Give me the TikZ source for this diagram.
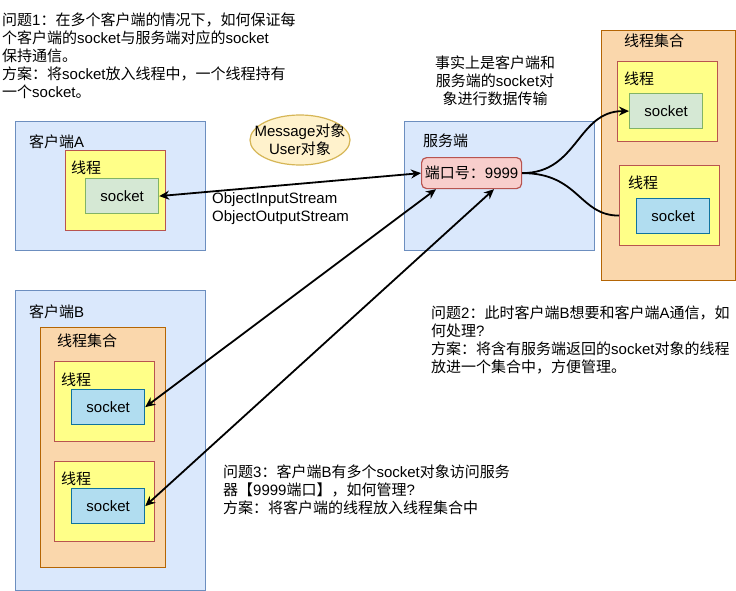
\documentclass[tikz,border=0pt]{standalone}
\usepackage{fontspec}
\setmainfont{Noto Sans CJK SC}
\newfontfamily\lat{Liberation Sans}
\usetikzlibrary{arrows.meta,calc,shapes.geometric}
\definecolor{cBlue}{HTML}{DAE8FC}
\definecolor{cBlueS}{HTML}{6C8EBF}
\definecolor{cOr}{HTML}{FAD7AC}
\definecolor{cOrS}{HTML}{B46504}
\definecolor{cYel}{HTML}{FFFF88}
\definecolor{cRedS}{HTML}{B85450}
\definecolor{cGr}{HTML}{D5E8D4}
\definecolor{cGrS}{HTML}{82B366}
\definecolor{cSk}{HTML}{B1DDF0}
\definecolor{cSkS}{HTML}{10739E}
\definecolor{cPink}{HTML}{F8CECC}
\definecolor{cEll}{HTML}{FFF2CC}
\definecolor{cEllS}{HTML}{D6B656}
\newcommand{\latn}[1]{{\lat #1}}
\tikzset{
  basebox/.style={anchor=north west, inner sep=0pt, line width=1.2pt},
  clientbox/.style={basebox, draw=cBlueS, fill=cBlue, minimum width=190pt},
  setbox/.style={basebox, draw=cOrS, fill=cOr},
  threadbox/.style={basebox, draw=cRedS, fill=cYel, minimum width=100pt, minimum height=80pt},
  sockg/.style={basebox, draw=cGrS, fill=cGr, minimum width=73pt, minimum height=35pt},
  sockb/.style={basebox, draw=cSkS, fill=cSk, minimum width=73pt, minimum height=35pt},
  lbl/.style={anchor=west, inner sep=0pt},
  note/.style={anchor=north west, inner sep=0pt, align=left},
  latfont/.style={font=\fontsize{15}{17.8}\selectfont\lat},
  arrowline/.style={line width=1.8pt},
  tip/.tip={Stealth[length=10pt,width=9pt]},
}
\begin{document}
\begin{tikzpicture}[x=1pt,y=-1pt,font=\fontsize{15}{17.8}\selectfont]
\useasboundingbox (0,0) rectangle (736,591);

% client A
\node[clientbox, minimum height=129pt] (ca) at (15,121) {};
\node[lbl] (lca) at (29,142) {客户端\latn{A}};
\node[threadbox] (ta) at (65,150) {};
\node[lbl] (lta) at (71,168) {线程};
\node[sockg] (sa) at (85,178) {\latn{socket}};

% ellipse
\node[ellipse, draw=cEllS, fill=cEll, line width=1.2pt, minimum width=100pt, minimum height=50pt, inner sep=0pt] (msg) at (300,140) {};
\node[align=center, inner sep=0pt] (msgt) at (msg.center) {\latn{Message}对象\\\latn{User}对象};

\node[lbl, latfont, align=left] (ois) at (212,209) {ObjectInputStream\\ObjectOutputStream};

% server
\node[clientbox, minimum height=129pt] (srv) at (404,121) {};
\node[lbl] (lsrv) at (423,141) {服务端};
\node[basebox, draw=cRedS, fill=cPink, rounded corners=5pt, minimum width=100pt, minimum height=31pt] (port) at (421,157) {端口号：\latn{9999}};

\node[align=center, inner sep=0pt] (fact) at (495,81) {事实上是客户端和\\服务端的\latn{socket}对\\象进行数据传输};

% right thread set
\node[setbox, minimum width=134pt, minimum height=250pt] (rset) at (601,30) {};
\node[lbl] (lrset) at (624,41) {线程集合};
\node[threadbox] (tr1) at (617,61) {};
\node[lbl] (ltr1) at (624,79) {线程};
\node[sockg] (sr1) at (629,93) {\latn{socket}};
\node[threadbox] (tr2) at (619,165) {};
\node[lbl] (ltr2) at (628,183) {线程};
\node[sockb] (sr2) at (636,198) {\latn{socket}};

% client B
\node[clientbox, minimum height=300pt] (cb) at (15,290) {};
\node[lbl] (lcb) at (29,312) {客户端\latn{B}};
\node[setbox, minimum width=125pt, minimum height=240pt] (bset) at (40,327) {};
\node[lbl] (lbset) at (57,341) {线程集合};
\node[threadbox] (tb1) at (54,361) {};
\node[lbl] (ltb1) at (61,380) {线程};
\node[sockb] (sb1) at (71,389) {\latn{socket}};
\node[threadbox] (tb2) at (54,461) {};
\node[lbl] (ltb2) at (61,479) {线程};
\node[sockb] (sb2) at (71,488) {\latn{socket}};

% notes
\node[note] (q1) at (2,13) {问题\latn{1}：在多个客户端的情况下，如何保证每\\个客户端的\latn{socket}与服务端对应的\latn{socket}\\保持通信。\\方案：将\latn{socket}放入线程中，一个线程持有\\一个\latn{socket}。};
\node[note] (q2) at (431,306) {问题\latn{2}：此时客户端\latn{B}想要和客户端\latn{A}通信，如\\何处理\latn{?}\\方案：将含有服务端返回的\latn{socket}对象的线程\\放进一个集合中，方便管理。};
\node[note] (q3) at (223,465) {问题\latn{3}：客户端\latn{B}有多个\latn{socket}对象访问服务\\器【\latn{9999}端口】，如何管理\latn{?}\\方案：将客户端的线程放入线程集合中};

% connectors
\coordinate (pb1) at ($(port.south west)+(15,0)$);
\coordinate (pb2) at ($(port.south west)+(73,0)$);
\coordinate (tr2in) at ($(tr2.west)+(0,10)$);
\draw[arrowline, tip-tip] (sa.east) -- (port.west);
\draw[arrowline, tip-tip] (sb1.east) -- (pb1);
\draw[arrowline, tip-tip] (sb2.east) -- (pb2);
\draw[arrowline, -tip] (port.east) .. controls +(56,0) and +(-52,0) .. (sr1.west);
\draw[arrowline] (port.east) .. controls +(57,0) and +(-40,0) .. (tr2in);
\end{tikzpicture}
\end{document}
